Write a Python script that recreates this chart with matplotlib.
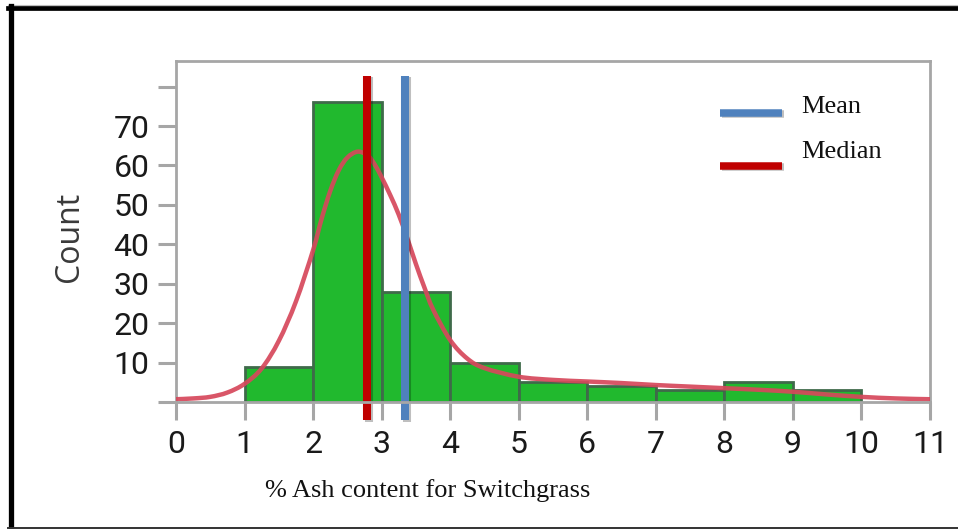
import matplotlib
matplotlib.use("Agg")
import matplotlib.pyplot as plt
import matplotlib.patheffects as pe
from matplotlib.lines import Line2D
from matplotlib.path import Path
from matplotlib.patches import PathPatch

# Histogram of ash content (%), bins of width 1
bin_edges = [1, 2, 3, 4, 5, 6, 7, 8, 9, 10]
counts = [9, 76, 28, 10, 5, 4, 3, 5, 3]

# Fitted density curve, scaled to counts
curve_x = [0.0, 0.25, 0.5, 0.75, 1.0, 1.25, 1.5, 1.75, 2.0, 2.125, 2.25, 2.375,
           2.5, 2.65, 2.8, 2.9, 3.0, 3.125, 3.25, 3.375, 3.5, 3.625, 3.75,
           4.0, 4.25, 4.5, 5.0, 5.5, 6.0, 6.5, 7.0, 7.5, 8.0, 8.5, 9.0, 9.5,
           10.0, 10.5, 11.0]
curve_y = [0.7, 0.9, 1.3, 2.4, 4.6, 8.5, 15.5, 25.5, 38.5, 46.5, 53.5, 58.8,
           62.0, 63.5, 62.5, 60.2, 57.0, 52.5, 47.5, 41.5, 35.0, 29.0, 23.5,
           15.7, 11.0, 8.6, 6.4, 5.6, 5.2, 4.8, 4.3, 3.9, 3.5, 3.1, 2.6, 1.9,
           1.3, 0.9, 0.7]

mean_value = 3.34
median_value = 2.78

x_ticks = list(range(0, 12))
y_ticks = list(range(0, 90, 10))
y_tick_labels = ["", "10", "20", "30", "40", "50", "60", "70", ""]
legend_labels = ["Mean", "Median"]
x_label = "% Ash content for Switchgrass"
y_label = "Count"

num_font = ["Roboto", "DejaVu Sans"]
serif_font = ["Liberation Serif", "DejaVu Serif"]
axis_gray = "#a6a6a6"
mean_color = "#4f81bd"
median_color = "#c00000"


def smooth_path(xs, ys):
    """Catmull-Rom curve through the points, as cubic Bezier segments."""
    pts = list(zip(xs, ys))
    verts = [pts[0]]
    codes = [Path.MOVETO]
    n = len(pts)
    for i in range(n - 1):
        p0 = pts[i - 1] if i > 0 else pts[i]
        p1 = pts[i]
        p2 = pts[i + 1]
        p3 = pts[i + 2] if i + 2 < n else pts[i + 1]
        c1 = (p1[0] + (p2[0] - p0[0]) / 6, p1[1] + (p2[1] - p0[1]) / 6)
        c2 = (p2[0] - (p3[0] - p1[0]) / 6, p2[1] - (p3[1] - p1[1]) / 6)
        verts += [c1, c2, p2]
        codes += [Path.CURVE4] * 3
    return Path(verts, codes)


fig = plt.figure(figsize=(9.58, 5.29), dpi=100)
ax = fig.add_axes([0.1837, 0.2401, 0.7871, 0.6446])

lefts = bin_edges[:-1]
widths = [b - a for a, b in zip(bin_edges[:-1], bin_edges[1:])]
ax.bar(lefts, counts, width=widths, align="edge", color="#21b92e",
       edgecolor="#3f6a4a", linewidth=2, zorder=2)

ax.add_patch(PathPatch(smooth_path(curve_x, curve_y), facecolor="none",
                       edgecolor="#d6485b", lw=3.2, alpha=0.92, zorder=3,
                       capstyle="round", joinstyle="round"))

shadow = [pe.SimpleLineShadow(offset=(1.5, -1), alpha=0.25, shadow_color="k"), pe.Normal()]
for val, col in [(mean_value, mean_color), (median_value, median_color)]:
    ax.plot([val, val], [-4.6, 82.7], color=col, lw=5.8, zorder=4,
            clip_on=False, solid_capstyle="butt", path_effects=shadow)

ax.set_xlim(0, 11)
ax.set_ylim(0, 86.5)
ax.set_xticks(x_ticks)
ax.set_xticklabels([str(t) for t in x_ticks])
ax.set_yticks(y_ticks)
ax.set_yticklabels(y_tick_labels)
ax.tick_params(axis="both", direction="out", length=13, width=2.2,
               color=axis_gray, labelcolor="#1a1a1a", labelsize=23)
ax.tick_params(axis="x", pad=7)
ax.tick_params(axis="y", pad=6)
for lab in ax.get_xticklabels() + ax.get_yticklabels():
    lab.set_family(num_font)
for sp in ax.spines.values():
    sp.set_color(axis_gray)
    sp.set_linewidth(2)
ax.spines["bottom"].set_zorder(5)

# Legend drawn as line samples with labels
for (lab, col, ly) in [(legend_labels[0], mean_color, 1 - 112.7 / 529),
                       (legend_labels[1], median_color, 1 - 165.7 / 529)]:
    fig.add_artist(Line2D([720 / 958, 782 / 958], [ly, ly], color=col, lw=5.4,
                          solid_capstyle="butt", path_effects=shadow))
fig.text(801 / 958, 1 - 113.5 / 529, legend_labels[0], family=serif_font,
         fontsize=19, va="baseline", ha="left", color="#111111")
fig.text(801 / 958, 1 - 158.5 / 529, legend_labels[1], family=serif_font,
         fontsize=19, va="baseline", ha="left", color="#111111")

fig.text(427.5 / 958, 1 - 497 / 529, x_label, family=serif_font, fontsize=19,
         va="baseline", ha="center", color="#111111")
fig.text(70 / 958, 1 - 237 / 529, y_label, family=["Open Sans", "DejaVu Sans"],
         fontsize=23, rotation=90, va="center", ha="center", color="#3a3a3a")

# Outer frame
W, H = 958, 529
def fx(px):
    return px / W
def fy(py):
    return 1 - py / H
fig.add_artist(Line2D([fx(8), fx(958)], [fy(5), fy(5)], color="#bdbdbd", lw=0.8))
fig.add_artist(Line2D([fx(8), fx(958)], [fy(8), fy(8)], color="black", lw=3.4))
fig.add_artist(Line2D([fx(10.5), fx(10.5)], [fy(6), fy(529)], color="black", lw=3.8))
fig.add_artist(Line2D([fx(8), fx(958)], [fy(527.5), fy(527.5)], color="#333333", lw=1.4))

fig.savefig("out.png", dpi=100)
